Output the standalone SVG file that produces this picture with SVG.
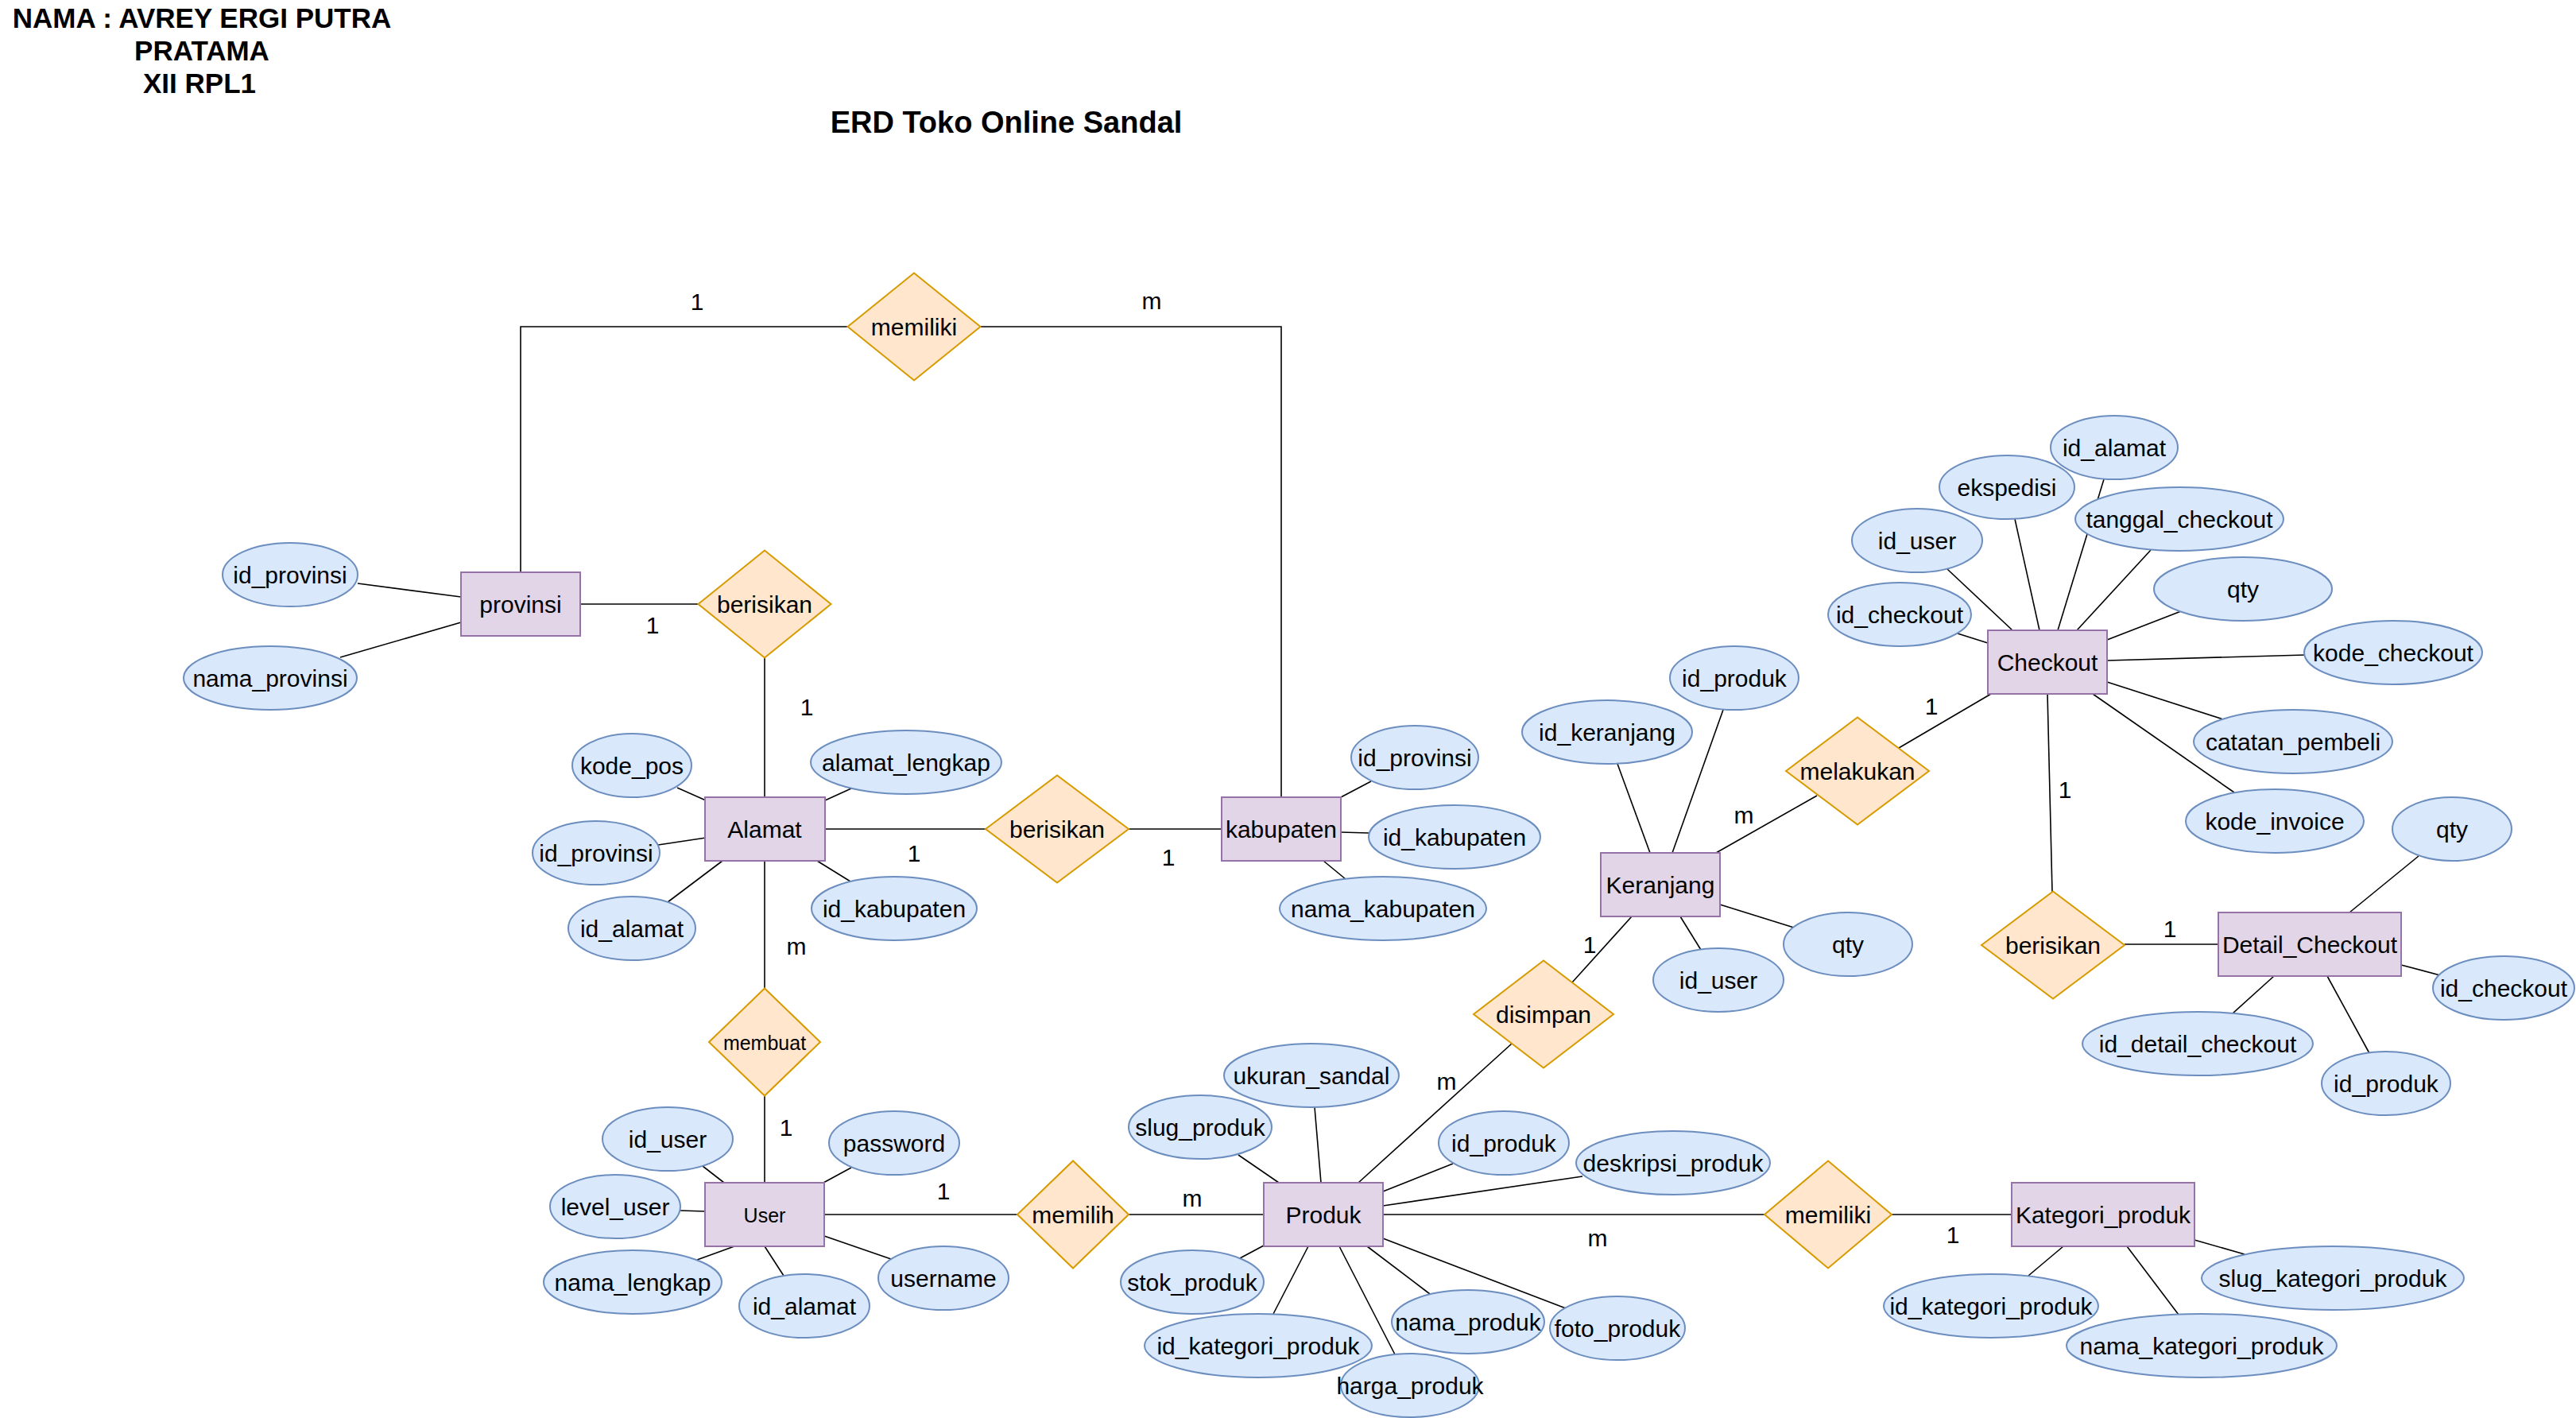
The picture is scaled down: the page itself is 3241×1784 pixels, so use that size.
<svg xmlns="http://www.w3.org/2000/svg" width="3241" height="1784" viewBox="0 0 3241 1784">
<style>
.bg{fill:#ffffff}
.e{fill:#e1d5e7;stroke:#9673a6;stroke-width:2}
.a{fill:#dae8fc;stroke:#6c8ebf;stroke-width:2}
.r{fill:#ffe6cc;stroke:#d79b00;stroke-width:2}
.c line,.c path{stroke:#000;stroke-width:1.6;fill:none}
text{font-family:"Liberation Sans",Arial,Helvetica,sans-serif;font-size:30px;fill:#000;text-anchor:middle}
.s{font-size:25px}
.h{font-weight:bold;font-size:35px}
.ht{font-weight:bold;font-size:38px}
</style>
<rect class="bg" x="0" y="0" width="3241" height="1784"/>
<g id="title">
<text class="h" x="254" y="35">NAMA : AVREY ERGI PUTRA</text>
<text class="h" x="254" y="76">PRATAMA</text>
<text class="h" x="251" y="117">XII RPL1</text>
<text class="ht" x="1266" y="167">ERD Toko Online Sandal</text>
</g>
<g id="connectors" class="c">
<path d="M655,720 V411 H1067"/>
<path d="M1234,411 H1612 V1003"/>
<line x1="450" y1="734" x2="580" y2="751"/>
<line x1="428" y1="827" x2="580" y2="783"/>
<line x1="730" y1="760" x2="879" y2="760"/>
<line x1="962" y1="828" x2="962" y2="1003"/>
<line x1="852" y1="991" x2="888" y2="1007"/>
<line x1="1071" y1="992" x2="1038" y2="1007"/>
<line x1="828" y1="1063" x2="888" y2="1054"/>
<line x1="840" y1="1135" x2="909" y2="1083"/>
<line x1="1070" y1="1109" x2="1028" y2="1083"/>
<line x1="1038" y1="1043" x2="1240" y2="1043"/>
<line x1="1420" y1="1043" x2="1537" y2="1043"/>
<line x1="962" y1="1083" x2="962" y2="1244"/>
<line x1="1725" y1="983" x2="1687" y2="1003"/>
<line x1="1687" y1="1047" x2="1722" y2="1048"/>
<line x1="1665" y1="1083" x2="1693" y2="1106"/>
<line x1="962" y1="1378" x2="962" y2="1488"/>
<line x1="884" y1="1467" x2="911" y2="1488"/>
<line x1="1071" y1="1469" x2="1036" y2="1488"/>
<line x1="856" y1="1523" x2="887" y2="1524"/>
<line x1="877" y1="1585" x2="924" y2="1568"/>
<line x1="986" y1="1605" x2="962" y2="1568"/>
<line x1="1121" y1="1584" x2="1037" y2="1555"/>
<line x1="1037" y1="1528" x2="1280" y2="1528"/>
<line x1="1420" y1="1528" x2="1590" y2="1528"/>
<line x1="1740" y1="1528" x2="2220" y2="1528"/>
<line x1="2380" y1="1528" x2="2531" y2="1528"/>
<line x1="1709" y1="1488" x2="1902" y2="1313"/>
<line x1="1558" y1="1453" x2="1609" y2="1488"/>
<line x1="1654" y1="1393" x2="1662" y2="1488"/>
<line x1="1828" y1="1464" x2="1740" y2="1499"/>
<line x1="1991" y1="1480" x2="1740" y2="1517"/>
<line x1="1560" y1="1583" x2="1590" y2="1567"/>
<line x1="1602" y1="1653" x2="1646" y2="1568"/>
<line x1="1755" y1="1704" x2="1685" y2="1568"/>
<line x1="1799" y1="1628" x2="1720" y2="1568"/>
<line x1="1970" y1="1646" x2="1740" y2="1558"/>
<line x1="2035" y1="961" x2="2076" y2="1073"/>
<line x1="2168" y1="893" x2="2104" y2="1073"/>
<line x1="2159" y1="1073" x2="2286" y2="1001"/>
<line x1="2164" y1="1138" x2="2257" y2="1167"/>
<line x1="2114" y1="1153" x2="2140" y2="1195"/>
<line x1="2053" y1="1153" x2="1978" y2="1236"/>
<line x1="2389" y1="941" x2="2505" y2="873"/>
<line x1="2647" y1="603" x2="2589" y2="793"/>
<line x1="2535" y1="653" x2="2566" y2="793"/>
<line x1="2706" y1="692" x2="2613" y2="793"/>
<line x1="2450" y1="716" x2="2532" y2="793"/>
<line x1="2744" y1="769" x2="2651" y2="805"/>
<line x1="2463" y1="797" x2="2501" y2="809"/>
<line x1="2900" y1="824" x2="2651" y2="831"/>
<line x1="2797" y1="905" x2="2651" y2="858"/>
<line x1="2811" y1="997" x2="2633" y2="873"/>
<line x1="2576" y1="873" x2="2582" y2="1122"/>
<line x1="2673" y1="1188" x2="2791" y2="1188"/>
<line x1="3043" y1="1077" x2="2956" y2="1148"/>
<line x1="3021" y1="1214" x2="3070" y2="1227"/>
<line x1="2861" y1="1228" x2="2809" y2="1275"/>
<line x1="2928" y1="1228" x2="2981" y2="1325"/>
<line x1="2596" y1="1568" x2="2552" y2="1605"/>
<line x1="2676" y1="1568" x2="2741" y2="1654"/>
<line x1="2761" y1="1560" x2="2824" y2="1578"/>
</g>
<g id="cardinality">
<text x="877" y="390">1</text>
<text x="1449" y="389">m</text>
<text x="821" y="797">1</text>
<text x="1015" y="900">1</text>
<text x="1150" y="1084">1</text>
<text x="1470" y="1089">1</text>
<text x="1002" y="1201">m</text>
<text x="989" y="1429">1</text>
<text x="1187" y="1509">1</text>
<text x="1500" y="1518">m</text>
<text x="1820" y="1371">m</text>
<text x="2010" y="1568">m</text>
<text x="2457" y="1564">1</text>
<text x="2000" y="1199">1</text>
<text x="2194" y="1036">m</text>
<text x="2430" y="899">1</text>
<text x="2598" y="1004">1</text>
<text x="2730" y="1179">1</text>
</g>
<g id="rel-memiliki-1"><polygon class="r" points="1066.5,411 1150,343.5 1233.5,411 1150,478.5"/><text x="1150" y="422">memiliki</text></g>
<g id="rel-berisikan-1"><polygon class="r" points="878.5,760 962,692.5 1045.5,760 962,827.5"/><text x="962" y="771">berisikan</text></g>
<g id="rel-berisikan-2"><polygon class="r" points="1240,1043 1330,975.5 1420,1043 1330,1110.5"/><text x="1330" y="1054">berisikan</text></g>
<g id="rel-membuat"><polygon class="r" points="892,1311 962,1243.5 1032,1311 962,1378.5"/><text class="s" x="962" y="1321">membuat</text></g>
<g id="rel-memilih"><polygon class="r" points="1280,1528 1350,1460.5 1420,1528 1350,1595.5"/><text x="1350" y="1539">memilih</text></g>
<g id="rel-disimpan"><polygon class="r" points="1854,1276 1942,1208.5 2030,1276 1942,1343.5"/><text x="1942" y="1287">disimpan</text></g>
<g id="rel-melakukan"><polygon class="r" points="2247,970 2337,902.5 2427,970 2337,1037.5"/><text x="2337" y="981">melakukan</text></g>
<g id="rel-berisikan-3"><polygon class="r" points="2493,1189 2583,1121.5 2673,1189 2583,1256.5"/><text x="2583" y="1200">berisikan</text></g>
<g id="rel-memiliki-2"><polygon class="r" points="2220,1528 2300,1460.5 2380,1528 2300,1595.5"/><text x="2300" y="1539">memiliki</text></g>
<g id="ent-provinsi"><rect class="e" x="580" y="720" width="150" height="80"/><text x="655" y="771">provinsi</text></g>
<g id="ent-alamat"><rect class="e" x="887" y="1003" width="151" height="80"/><text x="962" y="1054">Alamat</text></g>
<g id="ent-kabupaten"><rect class="e" x="1537" y="1003" width="150" height="80"/><text x="1612" y="1054">kabupaten</text></g>
<g id="ent-user"><rect class="e" x="887" y="1488" width="150" height="80"/><text class="s" x="962" y="1538">User</text></g>
<g id="ent-produk"><rect class="e" x="1590" y="1488" width="150" height="80"/><text x="1665" y="1539">Produk</text></g>
<g id="ent-keranjang"><rect class="e" x="2014" y="1073" width="150" height="80"/><text x="2089" y="1124">Keranjang</text></g>
<g id="ent-checkout"><rect class="e" x="2501" y="793" width="150" height="80"/><text x="2576" y="844">Checkout</text></g>
<g id="ent-detail-checkout"><rect class="e" x="2791" y="1148" width="230" height="80"/><text x="2906" y="1199">Detail_Checkout</text></g>
<g id="ent-kategori-produk"><rect class="e" x="2531" y="1488" width="230" height="80"/><text x="2646" y="1539">Kategori_produk</text></g>
<g id="att-prov-id"><ellipse class="a" cx="365" cy="723" rx="85" ry="40"/><text x="365" y="734">id_provinsi</text></g>
<g id="att-prov-nama"><ellipse class="a" cx="340" cy="853" rx="109" ry="40"/><text x="340" y="864">nama_provinsi</text></g>
<g id="att-alamat-kodepos"><ellipse class="a" cx="795" cy="963" rx="75" ry="40"/><text x="795" y="974">kode_pos</text></g>
<g id="att-alamat-lengkap"><ellipse class="a" cx="1140" cy="959" rx="120" ry="40"/><text x="1140" y="970">alamat_lengkap</text></g>
<g id="att-alamat-idprov"><ellipse class="a" cx="750" cy="1073" rx="80" ry="40"/><text x="750" y="1084">id_provinsi</text></g>
<g id="att-alamat-id"><ellipse class="a" cx="795" cy="1168" rx="80" ry="40"/><text x="795" y="1179">id_alamat</text></g>
<g id="att-alamat-idkab"><ellipse class="a" cx="1125" cy="1143" rx="104" ry="40"/><text x="1125" y="1154">id_kabupaten</text></g>
<g id="att-kab-idprov"><ellipse class="a" cx="1780" cy="953" rx="80" ry="40"/><text x="1780" y="964">id_provinsi</text></g>
<g id="att-kab-id"><ellipse class="a" cx="1830" cy="1053" rx="108" ry="40"/><text x="1830" y="1064">id_kabupaten</text></g>
<g id="att-kab-nama"><ellipse class="a" cx="1740" cy="1143" rx="130" ry="40"/><text x="1740" y="1154">nama_kabupaten</text></g>
<g id="att-user-id"><ellipse class="a" cx="840" cy="1433" rx="82" ry="40"/><text x="840" y="1444">id_user</text></g>
<g id="att-user-password"><ellipse class="a" cx="1125" cy="1438" rx="82" ry="40"/><text x="1125" y="1449">password</text></g>
<g id="att-user-level"><ellipse class="a" cx="774" cy="1518" rx="82" ry="40"/><text x="774" y="1529">level_user</text></g>
<g id="att-user-nama"><ellipse class="a" cx="796" cy="1613" rx="112" ry="40"/><text x="796" y="1624">nama_lengkap</text></g>
<g id="att-user-idalamat"><ellipse class="a" cx="1012" cy="1643" rx="82" ry="40"/><text x="1012" y="1654">id_alamat</text></g>
<g id="att-user-username"><ellipse class="a" cx="1187" cy="1608" rx="82" ry="40"/><text x="1187" y="1619">username</text></g>
<g id="att-produk-ukuran"><ellipse class="a" cx="1650" cy="1353" rx="110" ry="40"/><text x="1650" y="1364">ukuran_sandal</text></g>
<g id="att-produk-slug"><ellipse class="a" cx="1510" cy="1418" rx="90" ry="40"/><text x="1510" y="1429">slug_produk</text></g>
<g id="att-produk-id"><ellipse class="a" cx="1892" cy="1438" rx="82" ry="40"/><text x="1892" y="1449">id_produk</text></g>
<g id="att-produk-deskripsi"><ellipse class="a" cx="2105" cy="1463" rx="122" ry="40"/><text x="2105" y="1474">deskripsi_produk</text></g>
<g id="att-produk-stok"><ellipse class="a" cx="1500" cy="1613" rx="90" ry="40"/><text x="1500" y="1624">stok_produk</text></g>
<g id="att-produk-idkat"><ellipse class="a" cx="1583" cy="1693" rx="143" ry="40"/><text x="1583" y="1704">id_kategori_produk</text></g>
<g id="att-produk-nama"><ellipse class="a" cx="1847" cy="1663" rx="96" ry="40"/><text x="1847" y="1674">nama_produk</text></g>
<g id="att-produk-foto"><ellipse class="a" cx="2035" cy="1671" rx="85" ry="40"/><text x="2035" y="1682">foto_produk</text></g>
<g id="att-produk-harga"><ellipse class="a" cx="1774" cy="1743" rx="87" ry="40"/><text x="1774" y="1754">harga_produk</text></g>
<g id="att-ker-id"><ellipse class="a" cx="2022" cy="921" rx="107" ry="40"/><text x="2022" y="932">id_keranjang</text></g>
<g id="att-ker-idproduk"><ellipse class="a" cx="2182" cy="853" rx="81" ry="40"/><text x="2182" y="864">id_produk</text></g>
<g id="att-ker-qty"><ellipse class="a" cx="2325" cy="1188" rx="81" ry="40"/><text x="2325" y="1199">qty</text></g>
<g id="att-ker-iduser"><ellipse class="a" cx="2162" cy="1233" rx="82" ry="40"/><text x="2162" y="1244">id_user</text></g>
<g id="att-co-idalamat"><ellipse class="a" cx="2660" cy="563" rx="80" ry="40"/><text x="2660" y="574">id_alamat</text></g>
<g id="att-co-ekspedisi"><ellipse class="a" cx="2525" cy="613" rx="85" ry="40"/><text x="2525" y="624">ekspedisi</text></g>
<g id="att-co-tanggal"><ellipse class="a" cx="2742" cy="653" rx="131" ry="40"/><text x="2742" y="664">tanggal_checkout</text></g>
<g id="att-co-iduser"><ellipse class="a" cx="2412" cy="680" rx="82" ry="40"/><text x="2412" y="691">id_user</text></g>
<g id="att-co-qty"><ellipse class="a" cx="2822" cy="741" rx="112" ry="40"/><text x="2822" y="752">qty</text></g>
<g id="att-co-id"><ellipse class="a" cx="2390" cy="773" rx="90" ry="40"/><text x="2390" y="784">id_checkout</text></g>
<g id="att-co-kode"><ellipse class="a" cx="3011" cy="821" rx="112" ry="40"/><text x="3011" y="832">kode_checkout</text></g>
<g id="att-co-catatan"><ellipse class="a" cx="2885" cy="933" rx="125" ry="40"/><text x="2885" y="944">catatan_pembeli</text></g>
<g id="att-co-invoice"><ellipse class="a" cx="2862" cy="1033" rx="112" ry="40"/><text x="2862" y="1044">kode_invoice</text></g>
<g id="att-dc-qty"><ellipse class="a" cx="3085" cy="1043" rx="75" ry="40"/><text x="3085" y="1054">qty</text></g>
<g id="att-dc-idcheckout"><ellipse class="a" cx="3150" cy="1243" rx="89" ry="40"/><text x="3150" y="1254">id_checkout</text></g>
<g id="att-dc-id"><ellipse class="a" cx="2765" cy="1313" rx="145" ry="40"/><text x="2765" y="1324">id_detail_checkout</text></g>
<g id="att-dc-idproduk"><ellipse class="a" cx="3002" cy="1363" rx="81" ry="40"/><text x="3002" y="1374">id_produk</text></g>
<g id="att-kat-id"><ellipse class="a" cx="2505" cy="1643" rx="135" ry="40"/><text x="2505" y="1654">id_kategori_produk</text></g>
<g id="att-kat-nama"><ellipse class="a" cx="2770" cy="1693" rx="170" ry="40"/><text x="2770" y="1704">nama_kategori_produk</text></g>
<g id="att-kat-slug"><ellipse class="a" cx="2935" cy="1608" rx="165" ry="40"/><text x="2935" y="1619">slug_kategori_produk</text></g>
</svg>
